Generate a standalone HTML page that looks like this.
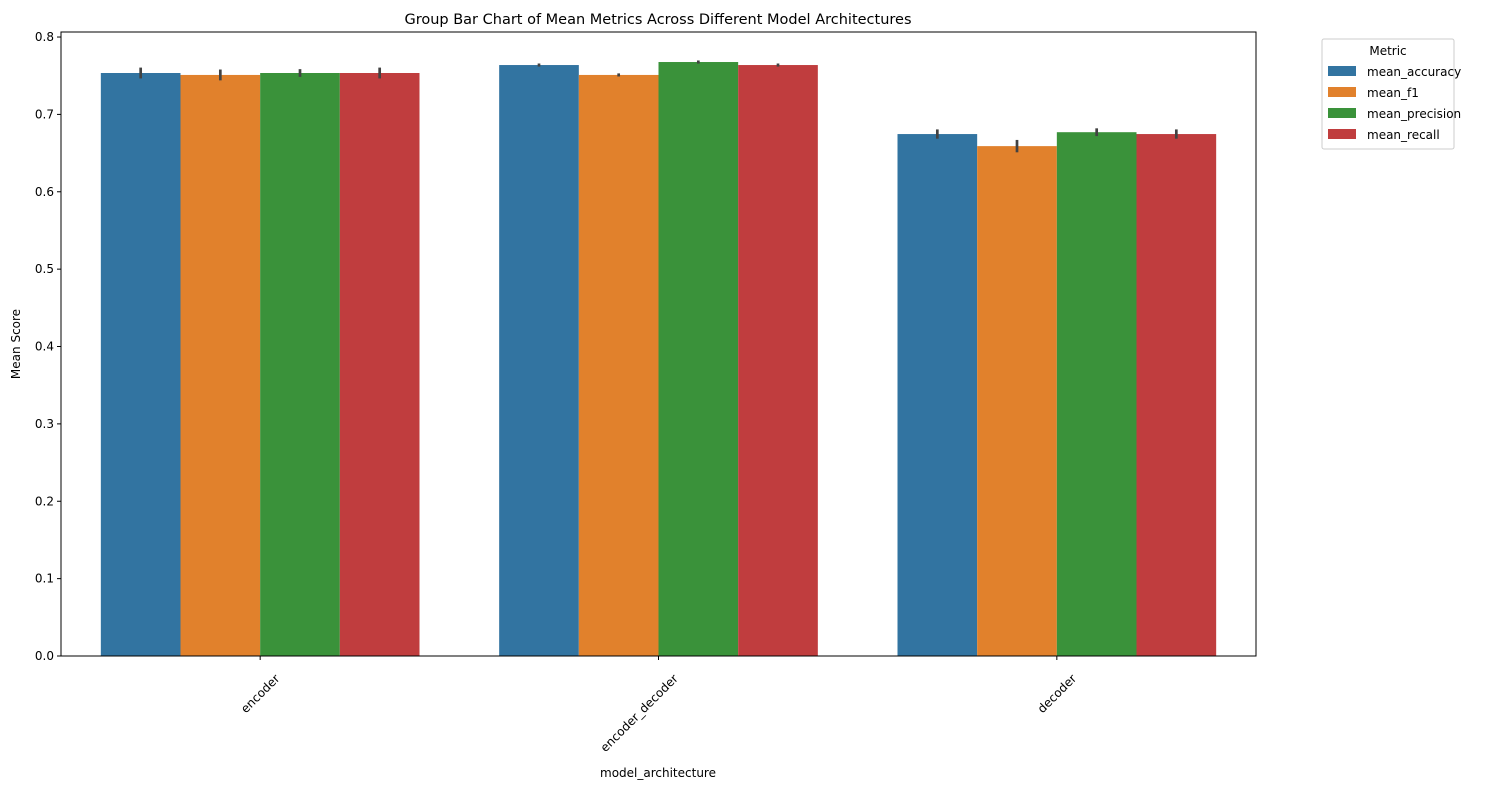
<!DOCTYPE html>
<html><head><meta charset="utf-8"><style>
body{margin:0;background:#fff;font-family:"Liberation Sans","DejaVu Sans",sans-serif;}
svg text{font-family:"DejaVu Sans","Liberation Sans",sans-serif;}
</style></head><body>
<svg id="chart" width="1491" height="790" xmlns="http://www.w3.org/2000/svg">
<text x="658" y="24" font-size="14.5" text-anchor="middle">Group Bar Chart of Mean Metrics Across Different Model Architectures</text>
<g id="bars"></g>
<g id="axes"></g>
<rect x="61" y="32" width="1195" height="624" fill="none" stroke="#000" stroke-width="1"/>
<text transform="translate(20,344) rotate(-90)" font-size="12" text-anchor="middle">Mean Score</text>
<text x="658" y="777" font-size="12" text-anchor="middle">model_architecture</text>
<g>
<rect x="1322" y="39" width="132" height="110" fill="#fff" stroke="#ccc" rx="2"/>
<text x="1388" y="55" font-size="12" text-anchor="middle">Metric</text>
<g id="legend-items"></g>
</g>
</svg>
<script>
const categories = ["encoder","encoder_decoder","decoder"];
const metrics = ["mean_accuracy","mean_f1","mean_precision","mean_recall"];
const colors = ["#3274a1","#e1812c","#3a923a","#c03d3e"];
const accuracy = [0.7535,0.7638,0.6746];
const f1 = [0.7510,0.7510,0.6590];
const precision = [0.7535,0.7677,0.6770];
const recall = [0.7535,0.7638,0.6746];
const errAccuracy = [0.007,0.002,0.006];
const errF1 = [0.007,0.002,0.008];
const errPrecision = [0.005,0.002,0.005];
const errRecall = [0.007,0.002,0.006];
const yTicks = [0.0,0.1,0.2,0.3,0.4,0.5,0.6,0.7,0.8];

const series = [accuracy,f1,precision,recall];
const errs = [errAccuracy,errF1,errPrecision,errRecall];
const NS = "http://www.w3.org/2000/svg";
const L=61,R=1256,T=32,B=656,yMax=0.8065;
const y = v => B - v/yMax*(B-T);
const groupW=(R-L)/categories.length;
const xc = i => L + groupW*(i+0.5);
const barW = groupW*0.8/metrics.length;
function mk(tag,attrs,parent){const e=document.createElementNS(NS,tag);for(const k in attrs)e.setAttribute(k,attrs[k]);parent.appendChild(e);return e;}
const bars=document.getElementById('bars'), axes=document.getElementById('axes');
categories.forEach((c,i)=>{
  series.forEach((s,j)=>{
    const x0 = xc(i) - groupW*0.4 + j*barW;
    const r = mk('rect',{x:x0,y:y(s[i]),width:barW,height:B-y(s[i]),fill:colors[j]},bars);
    
    
    const eb = mk('line',{x1:x0+barW/2,x2:x0+barW/2,y1:y(s[i]-errs[j][i]),y2:y(s[i]+errs[j][i]),stroke:'#424242','stroke-width':2.7},bars);
    
    
  });
  const tk = mk('line',{x1:xc(i),x2:xc(i),y1:B,y2:B+4,stroke:'#000'},axes);
  
  
  const t = mk('text',{transform:`translate(${xc(i)+14},${B+17}) rotate(-45)`,'font-size':12,'text-anchor':'end','dominant-baseline':'hanging'},axes);
  t.textContent=c;
  
  
});
yTicks.forEach(v=>{
  const tk = mk('line',{x1:L-4,x2:L,y1:y(v),y2:y(v),stroke:'#000'},axes);
  
  
  const t = mk('text',{x:L-7,y:y(v)+4,'font-size':12,'text-anchor':'end'},axes);
  t.textContent=v.toFixed(1);
  
  
});
const li=document.getElementById('legend-items');
metrics.forEach((m,j)=>{
  const yy=64+j*21;
  const r = mk('rect',{x:1328,y:yy+2,width:28,height:10,fill:colors[j]},li);
  
  
  const t = mk('text',{x:1367,y:yy+12,'font-size':12},li);
  t.textContent=m;
  
  
});
</script>
</body></html>
